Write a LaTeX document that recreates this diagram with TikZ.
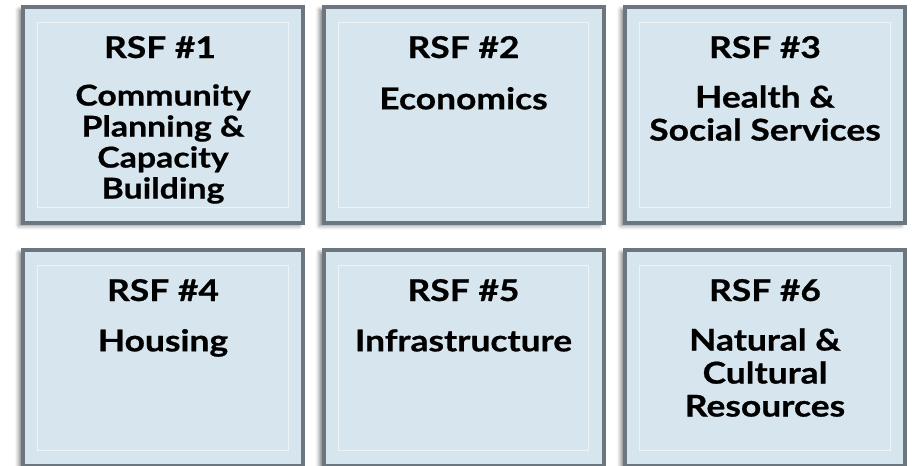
\documentclass[tikz,border=0pt]{standalone}
\usepackage{fontspec}
\setmainfont{Lato}
\newfontfamily\rsffont[FakeStretch=1.18, FakeBold=0.7]{Lato}
\usepackage{tikz}
\usetikzlibrary{calc, positioning, shadows.blur}

\definecolor{panelfill}{HTML}{D7E5EE}
\definecolor{paneledge}{HTML}{6C767E}
\definecolor{panelline}{HTML}{EEF3F6}

\begin{document}
\begin{tikzpicture}[x=0.75pt, y=-0.75pt]
    % Define styles
    \tikzstyle{panel}=[draw=paneledge, line width=3pt, fill=panelfill,
        minimum width=210pt, minimum height=162pt, inner sep=0pt,
        blur shadow={shadow xshift=-3pt, shadow yshift=-2pt, shadow blur radius=3pt, shadow opacity=50}]
    \tikzstyle{inner_frame}=[draw=panelline, line width=0.9pt, inner sep=0pt,
        minimum width=188pt, minimum height=139pt]
    \tikzstyle{rsf_title}=[anchor=base, inner sep=0pt,
        font=\rsffont\fontsize{22.5}{26}\selectfont\bfseries]
    \tikzstyle{rsf_text}=[anchor=north, inner sep=0pt, align=center,
        execute at begin node=\strut,
        font=\rsffont\fontsize{22.5}{24.75}\selectfont\bfseries]

    \useasboundingbox (0,0) rectangle (918,465);

    % --- 1. The six panels ---
    \node[panel] (rsf1) at (163,115) {};
    \node[panel] (rsf2) at (463.5,115) {};
    \node[panel] (rsf3) at (765,115) {};
    \node[panel] (rsf4) at (163,358) {};
    \node[panel] (rsf5) at (463.5,358) {};
    \node[panel] (rsf6) at (765,358) {};

    % thin light frame inside each panel
    \foreach \p in {rsf1,rsf2,rsf3,rsf4,rsf5,rsf6}
        \node[inner_frame] at (\p.center) {};

    % --- 2. Titles ---
    \node[rsf_title] (t1) at ($(rsf1.north)+(-3,53)$) {RSF \#1};
    \node[rsf_title] (t2) at ($(rsf2.north)+(0,53)$) {RSF \#2};
    \node[rsf_title] (t3) at ($(rsf3.north)+(0,53)$) {RSF \#3};
    \node[rsf_title] (t4) at ($(rsf4.north)+(0,53)$) {RSF \#4};
    \node[rsf_title] (t5) at ($(rsf5.north)+(0,53)$) {RSF \#5};
    \node[rsf_title] (t6) at ($(rsf6.north)+(0,53)$) {RSF \#6};

    % --- 3. Subjects ---
    \node[rsf_text, font=\rsffont\fontsize{21.5}{23.25}\selectfont\bfseries] (s1) at ($(rsf1.north)+(0,79)$)
        {Community\\Planning \&\\Capacity\\Building};
    \node[rsf_text] (s2) at ($(rsf2.north)+(0,81)$) {Economics};
    \node[rsf_text] (s3) at ($(rsf3.north)+(0,80)$) {Health \&\\Social Services};
    \node[rsf_text] (s4) at ($(rsf4.north)+(0,80)$) {Housing};
    \node[rsf_text] (s5) at ($(rsf5.north)+(0,80)$) {Infrastructure};
    \node[rsf_text] (s6) at ($(rsf6.north)+(0,80)$) {Natural \&\\Cultural\\Resources};

\end{tikzpicture}
\end{document}
